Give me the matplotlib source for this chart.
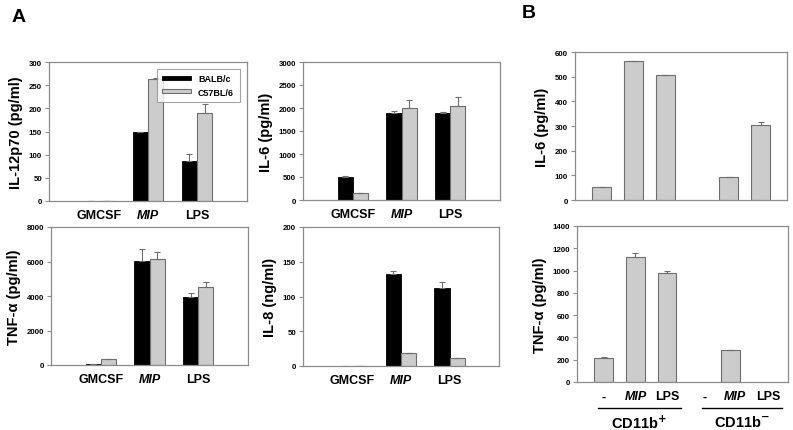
import numpy as np
import matplotlib
matplotlib.use('Agg')
import matplotlib.pyplot as plt
import matplotlib.transforms as mtransforms

plt.rcParams['font.family'] = ['Liberation Sans', 'DejaVu Sans']
plt.rcParams['font.weight'] = 'bold'
plt.rcParams['mathtext.default'] = 'bf'

# ---- data, panel A ----
groups_a = ['GMCSF', 'MIP', 'LPS']
strains = ['BALB/c', 'C57BL/6']

il12_balb = [0, 150, 86]
il12_balb_err = [0, 0, 16]
il12_c57 = [0, 263, 189]
il12_c57_err = [0, 3, 20]

il6_balb = [510, 1890, 1900]
il6_balb_err = [8, 50, 10]
il6_c57 = [160, 2010, 2050]
il6_c57_err = [0, 170, 200]

tnf_balb = [80, 6050, 3920]
tnf_balb_err = [0, 700, 250]
tnf_c57 = [330, 6120, 4500]
tnf_c57_err = [15, 420, 300]

il8_balb = [0.6, 133, 112]
il8_balb_err = [0, 3, 9]
il8_c57 = [0.4, 18, 11]
il8_c57_err = [0, 1, 0]

# ---- data, panel B ----
treat_b = ['-', 'MIP', 'LPS', '-', 'MIP', 'LPS']
cells_b = ['CD11b$^{+}$', 'CD11b$^{-}$']
b_pos = [0, 1, 2, 4, 5]           # bars drawn (CD11b- "-" has none)
b_il6 = [52, 562, 505, 92, 305]
b_il6_err = [1, 0, 1, 2, 12]
b_tnf_pos = [0, 1, 2, 4]
b_tnf = [215, 1125, 980, 285]
b_tnf_err = [5, 35, 15, 3]

BLACK = '#000000'
GREY = '#cccccc'
EDGE = '#6e6e6e'
SPINE = '#8c8c8c'

W, H = 793, 431
fig = plt.figure(figsize=(W / 100, H / 100), dpi=100)


def px_axes(l, t, r, b):
    return fig.add_axes([l / W, 1 - b / H, (r - l) / W, (b - t) / H])


def style(ax, ymax, step, ylabel):
    ax.set_ylim(0, ymax)
    ax.set_yticks(np.arange(0, ymax + 1, step))
    for s in ax.spines.values():
        s.set_color(SPINE)
        s.set_linewidth(0.9)
    ax.tick_params(axis='y', length=3, width=0.8, color=SPINE, labelsize=5.7, pad=2)
    ax.tick_params(axis='x', length=0, labelsize=9, pad=6)
    ax.set_ylabel(ylabel, fontsize=10.5, fontweight='bold', labelpad=4)


def panel_a(ax, balb, balb_err, c57, c57_err, ymax, step, ylabel):
    x = np.arange(len(groups_a))
    w = 0.31
    ax.bar(x - w / 2, balb, w, color=BLACK, edgecolor=BLACK, lw=0.6,
           yerr=[np.zeros(3), balb_err], error_kw=dict(ecolor=EDGE, elinewidth=0.8, capsize=2.5, capthick=0.8),
           label=strains[0])
    ax.bar(x + w / 2, c57, w, color=GREY, edgecolor=EDGE, lw=0.8,
           yerr=[np.zeros(3), c57_err], error_kw=dict(ecolor=EDGE, elinewidth=0.8, capsize=2.5, capthick=0.8),
           label=strains[1])
    ax.set_xlim(-1.02, 3.02)
    ax.set_xticks(x)
    ax.set_xticklabels(groups_a)
    ax.get_xticklabels()[1].set_style('italic')
    style(ax, ymax, step, ylabel)


ax1 = px_axes(49, 63, 247, 202)
panel_a(ax1, il12_balb, il12_balb_err, il12_c57, il12_c57_err, 300, 50, 'IL-12p70 (pg/ml)')
leg = ax1.legend(loc='upper right', fontsize=6.5, frameon=True, fancybox=False,
                 handlelength=3.2, handleheight=0.35, borderpad=0.6, labelspacing=0.5,
                 bbox_to_anchor=(0.985, 0.985))
leg.get_frame().set_edgecolor(SPINE)
leg.get_frame().set_linewidth(0.8)

ax2 = px_axes(303, 63, 500, 201)
panel_a(ax2, il6_balb, il6_balb_err, il6_c57, il6_c57_err, 3000, 500, 'IL-6 (pg/ml)')

ax3 = px_axes(51, 228, 248, 366)
panel_a(ax3, tnf_balb, tnf_balb_err, tnf_c57, tnf_c57_err, 8000, 2000, 'TNF-α (pg/ml)')

ax4 = px_axes(303, 228, 499, 367)
panel_a(ax4, il8_balb, il8_balb_err, il8_c57, il8_c57_err, 200, 50, 'IL-8 (ng/ml)')

# ---- panel B ----
def panel_b(ax, pos, vals, errs, ymax, step, ylabel, labels):
    ax.bar(pos, vals, 0.6, color=GREY, edgecolor=EDGE, lw=0.8,
           yerr=[np.zeros(len(vals)), errs],
           error_kw=dict(ecolor=EDGE, elinewidth=0.8, capsize=2.5, capthick=0.8))
    ax.set_xlim(-0.85, 5.83)
    if labels:
        ax.set_xticks([0, 1, 2, 3.2, 4.15, 5.2])
        ax.set_xticklabels(treat_b, fontsize=9)
        for i in (1, 4):
            ax.get_xticklabels()[i].set_style('italic')
    else:
        ax.set_xticks([])
    style(ax, ymax, step, ylabel)


ax5 = px_axes(575, 53, 787, 201)
panel_b(ax5, b_pos, b_il6, b_il6_err, 600, 100, 'IL-6 (pg/ml)', False)

ax6 = px_axes(577, 227, 788, 383)
panel_b(ax6, b_tnf_pos, b_tnf, b_tnf_err, 1400, 200, 'TNF-α (pg/ml)', True)

# group underlines and cell-type labels below panel B
trans = mtransforms.blended_transform_factory(ax6.transData, fig.transFigure)
y_line = 1 - 409 / H
y_text = 1 - 423 / H
for (x0, x1), name in zip([(-0.2, 2.45), (3.1, 5.65)], cells_b):
    fig.add_artist(plt.Line2D([x0, x1], [y_line, y_line], transform=trans, color='black', lw=1.0))
    fig.text((x0 + x1) / 2, y_text, name, transform=trans, ha='center', va='center',
             fontsize=10.5, fontweight='bold')

fig.text(12 / W, 1 - 18 / H, 'A', fontsize=14, fontweight='bold', ha='left', va='center')
fig.text(522 / W, 1 - 14 / H, 'B', fontsize=14, fontweight='bold', ha='left', va='center')

fig.savefig('out.png', dpi=100)
